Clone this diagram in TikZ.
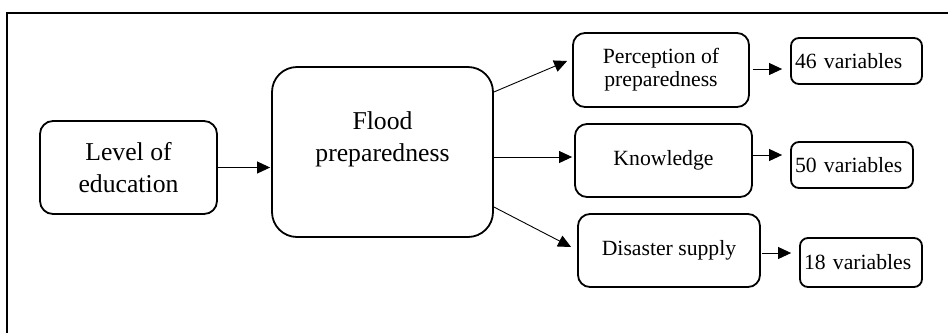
\documentclass[tikz,border=0pt]{standalone}
\usepackage{fontspec}
\setmainfont{Liberation Serif}
\usetikzlibrary{arrows.meta,calc}
\tikzset{
    block/.style = {draw, rectangle, rounded corners=12pt, line width=1.8pt,
        align=center, font=\fontsize{21.7}{23}\selectfont},
    bigblock/.style = {draw, rectangle, rounded corners=13pt, line width=1.8pt,
        align=center, font=\fontsize{25.7}{32}\selectfont},
    varblock/.style = {draw, rectangle, rounded corners=8pt, line width=1.8pt,
        align=left, inner xsep=4pt, font=\fontsize{21.7}{23}\selectfont},
    arrow/.style = {draw, line width=0.9pt, -{Triangle[length=13pt,width=12pt]}}
}
\begin{document}
\begin{tikzpicture}[x=1pt,y=1pt]
    \useasboundingbox (0,0) rectangle (948,-333);
    % frame
    \draw[line width=2pt] (7,-333) -- (7,-13) -- (948,-13);
    % main blocks
    \node[bigblock, minimum width=177pt, minimum height=93pt] (edu) at (128.5,-167.5) {Level of\\education};
    \node[bigblock, rounded corners=25pt, minimum width=221pt, minimum height=170pt,
          text depth=30pt] (flood) at (382.5,-152) {Flood\\preparedness};
    % dimensions
    \node[block, minimum width=176pt, minimum height=74pt] (percep) at (661,-70) {Perception of\\preparedness};
    \node[block, minimum width=177pt, minimum height=73pt] (know) at (663.5,-160.5) {Knowledge};
    \node[block, minimum width=182pt, minimum height=73pt] (supply) at (669,-250.5) {Disaster supply};
    % variables
    \node[varblock, minimum width=131pt, minimum height=46pt, text width=123pt] (var46) at (856.5,-61) {46 variables};
    \node[varblock, minimum width=122pt, minimum height=46pt, text width=114pt] (var50) at (852,-165) {50 variables};
    \node[varblock, minimum width=122pt, minimum height=49pt, text width=114pt] (var18) at (861,-262.5) {18 variables};
    % connectors
    \draw[arrow] (edu.east) -- ([xshift=-1pt]edu.east -| flood.west);
    \draw[arrow] ([yshift=60pt]flood.east) -- ([xshift=-5pt,yshift=9pt]percep.west);
    \draw[arrow] ([yshift=-5pt]flood.east) -- ([xshift=-2pt,yshift=-5pt]flood.east -| know.west);
    \draw[arrow] ([yshift=-55pt]flood.east) -- ([xshift=-6pt,yshift=3.5pt]supply.west);
    \draw[arrow] ([xshift=3pt,yshift=1pt]percep.east) -- ([xshift=-8pt,yshift=1pt]percep.east -| var46.west);
    \draw[arrow] ([yshift=5.5pt]know.east) -- ([xshift=-8pt,yshift=5.5pt]know.east -| var50.west);
    \draw[arrow] ([xshift=1pt,yshift=-2.5pt]supply.east) -- ([xshift=-8pt,yshift=-2.5pt]supply.east -| var18.west);
\end{tikzpicture}
\end{document}
